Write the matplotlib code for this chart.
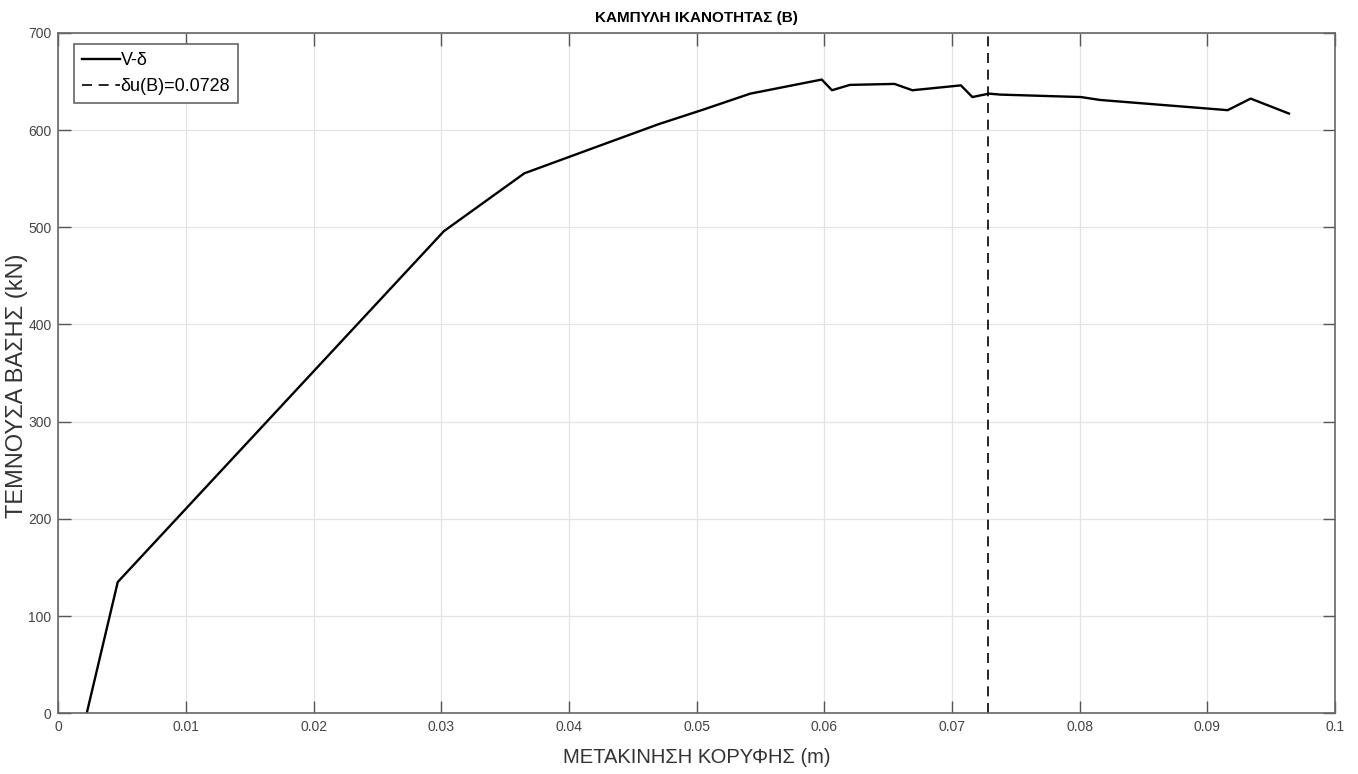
import matplotlib
matplotlib.use("Agg")
import matplotlib.pyplot as plt

# pushover curve V-delta
delta = [0.00222, 0.00465, 0.0302, 0.0365, 0.0420, 0.0470, 0.0505, 0.0542, 0.0598,
         0.0606, 0.0620, 0.0655, 0.0669, 0.0707, 0.0716, 0.0729, 0.0738, 0.0801,
         0.0816, 0.0916, 0.0934, 0.0964]
V = [0, 135, 496, 555.5, 582, 606, 621, 637.5, 652,
     641, 646.5, 647.5, 641, 646, 634, 637.5, 636.5, 634,
     631, 620.5, 632.4, 617]
du = 0.0728

plt.rcParams['font.family'] = ['Liberation Sans', 'DejaVu Sans']

fig = plt.figure(figsize=(13.58, 7.74), dpi=100)
ax = fig.add_axes([0.0430, 0.0785, 0.940, 0.879])

ax.plot(delta, V, color='black', lw=1.7, label='V-δ')
ax.plot([du, du], [0, 700], color='black', lw=1.2, linestyle=(0, (6, 4)),
        label='δu(B)=%.4f' % du)

ax.set_xlim(0, 0.1)
ax.set_ylim(0, 700)
ax.set_xticks([0, 0.01, 0.02, 0.03, 0.04, 0.05, 0.06, 0.07, 0.08, 0.09, 0.1])
ax.set_xticklabels(['0', '0.01', '0.02', '0.03', '0.04', '0.05', '0.06', '0.07',
                    '0.08', '0.09', '0.1'])
ax.set_yticks(range(0, 701, 100))
ax.grid(True, color='#e3e3e3', lw=0.9)
ax.set_axisbelow(True)
ax.tick_params(direction='in', length=9, width=1.0, top=True, right=True,
               labelsize=10, colors='#555555', labelcolor='#444444', pad=5)
for sp in ax.spines.values():
    sp.set_color('#666666')
    sp.set_linewidth(1.2)

ax.set_title('ΚΑΜΠΥΛΗ ΙΚΑΝΟΤΗΤΑΣ (Β)', fontsize=11, fontweight='bold', pad=8)
ax.set_xlabel('ΜΕΤΑΚΙΝΗΣΗ ΚΟΡΥΦΗΣ (m)', fontsize=14.5, color='#333333', labelpad=10)
ax.set_ylabel('ΤΕΜΝΟΥΣΑ ΒΑΣΗΣ (kN)', fontsize=17, color='#333333')
ax.yaxis.set_label_coords(-0.024, 0.481)

leg = ax.legend(loc='upper left', bbox_to_anchor=(0.012, 0.984), fontsize=13,
                fancybox=False, framealpha=1, edgecolor='#666666',
                handlelength=2.1, handletextpad=0.05, borderpad=0.45,
                labelspacing=0.5, borderaxespad=0)
leg.get_frame().set_linewidth(1.2)

fig.savefig('out.png', dpi=100)
